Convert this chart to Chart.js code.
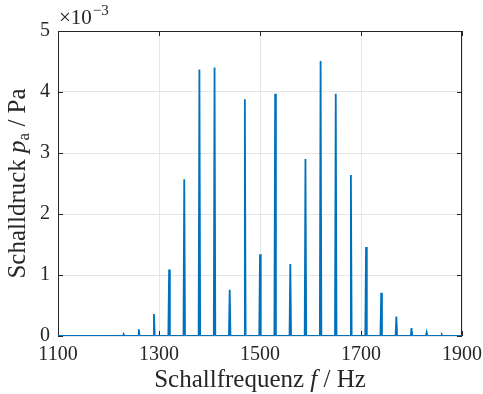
<!DOCTYPE html>
<html lang="de">
<head>
    <meta charset="UTF-8">
    <title>Schalldruckspektrum</title>
    <script src="https://cdn.jsdelivr.net/npm/chart.js"></script>
    <style>
        html, body { margin: 0; padding: 0; background: #ffffff; }
        #wrap { width: 483px; height: 394px; position: relative; }
    </style>
</head>
<body>
    <div id="wrap"><canvas id="spectrum"></canvas></div>

    <script>
        // Peaks of the spectrum (Hz) and their amplitudes (x 10^-3 Pa)
        const peakFreqs   = [1200, 1230, 1260, 1290, 1320, 1350, 1380, 1410, 1440, 1470, 1500, 1530, 1560,
                             1590, 1620, 1650, 1680, 1710, 1740, 1770, 1800, 1830, 1860];
        const peakHeights = [0.005, 0.03, 0.11, 0.36, 1.09, 2.57, 4.37, 4.40, 0.76, 3.88, 1.34, 3.97, 1.18,
                             2.90, 4.51, 3.97, 2.64, 1.46, 0.71, 0.32, 0.13, 0.06, 0.02];
        const peakHalfWidth = 1.5; // Hz
        const freqRange = [1100, 1900];
        const xTicks = [1100, 1300, 1500, 1700, 1900];
        const yTicks = [0, 1, 2, 3, 4, 5];

        // build the line: flat zero baseline with a narrow spike at each peak
        const points = [{ x: freqRange[0], y: 0 }];
        peakFreqs.forEach((f, i) => {
            points.push({ x: f - peakHalfWidth, y: 0 });
            points.push({ x: f, y: peakHeights[i] * 1e-3 });
            points.push({ x: f + peakHalfWidth, y: 0 });
        });
        points.push({ x: freqRange[1], y: 0 });

        const serif = "'Liberation Serif', 'DejaVu Serif', serif";
        const ink = '#262626';

        // box, inward ticks, axis titles and exponent, MATLAB style
        const matlabAxes = {
            id: 'matlabAxes',
            beforeDatasetsDraw(chart) {
                const { ctx, chartArea: a, scales: { x, y } } = chart;
                ctx.save();
                ctx.strokeStyle = ink;
                ctx.lineWidth = 1;
                ctx.strokeRect(a.left + 0.5, a.top + 0.5, a.right - a.left - 1, a.bottom - a.top - 1);
                const t = 5;
                ctx.beginPath();
                xTicks.forEach(v => {
                    const px = Math.round(x.getPixelForValue(v)) + 0.5;
                    ctx.moveTo(px, a.bottom); ctx.lineTo(px, a.bottom - t);
                    ctx.moveTo(px, a.top); ctx.lineTo(px, a.top + t);
                });
                yTicks.forEach(v => {
                    const py = Math.round(y.getPixelForValue(v * 1e-3)) + 0.5;
                    ctx.moveTo(a.left, py); ctx.lineTo(a.left + t, py);
                    ctx.moveTo(a.right, py); ctx.lineTo(a.right - t, py);
                });
                ctx.stroke();
                ctx.restore();
            },
            afterDraw(chart) {
                const { ctx, chartArea: a } = chart;
                ctx.save();
                ctx.fillStyle = ink;
                ctx.textBaseline = 'alphabetic';

                // draws a list of [text, font, dy] pieces, centred on cx
                function drawPieces(pieces, cx, baseY) {
                    let w = 0;
                    pieces.forEach(p => { ctx.font = p[1]; w += ctx.measureText(p[0]).width; });
                    let px = cx - w / 2;
                    pieces.forEach(p => {
                        ctx.font = p[1];
                        ctx.fillText(p[0], px, baseY + (p[2] || 0));
                        px += ctx.measureText(p[0]).width;
                    });
                }

                const rm = '25px ' + serif, it = 'italic 25px ' + serif, sub = '17px ' + serif;
                drawPieces([['Schallfrequenz ', rm], ['f', it], [' / Hz', rm]], (a.left + a.right) / 2, 387);

                ctx.save();
                ctx.translate(25, (a.top + a.bottom) / 2);
                ctx.rotate(-Math.PI / 2);
                drawPieces([['Schalldruck ', rm], ['p', it], ['a', sub, 4], [' / Pa', rm]], 0, 0);
                ctx.restore();

                // exponent label
                ctx.font = '21px ' + serif;
                ctx.fillText('\u00d710', 59, 24);
                const w10 = ctx.measureText('\u00d710').width;
                ctx.font = '15px ' + serif;
                ctx.fillText('\u22123', 59 + w10 + 1, 15);
                ctx.restore();
            }
        };

        new Chart(document.getElementById('spectrum'), {
            type: 'line',
            data: {
                datasets: [{
                    data: points,
                    borderColor: '#0072BD',
                    borderWidth: 1.8,
                    pointRadius: 0,
                    tension: 0,
                    fill: false
                }]
            },
            options: {
                responsive: true,
                maintainAspectRatio: false,
                animation: false,
                events: [],
                layout: { padding: { left: 0, top: 31, right: 21, bottom: 0 } },
                plugins: { legend: { display: false }, tooltip: { enabled: false } },
                scales: {
                    x: {
                        type: 'linear',
                        min: freqRange[0],
                        max: freqRange[1],
                        afterBuildTicks: s => { s.ticks = xTicks.map(v => ({ value: v })); },
                        afterFit: s => { s.height = 58; s.paddingLeft = 0; s.paddingRight = 0; },
                        grid: { color: '#e6e6e6', lineWidth: 1, drawTicks: false },
                        border: { display: false },
                        ticks: {
                            padding: 7,
                            maxRotation: 0,
                            color: ink,
                            font: { family: serif, size: 20 },
                            callback: v => String(v)
                        }
                    },
                    y: {
                        min: 0,
                        max: 0.005,
                        afterBuildTicks: s => { s.ticks = yTicks.map(v => ({ value: v * 1e-3 })); },
                        afterFit: s => { s.width = 58; s.paddingTop = 0; s.paddingBottom = 0; },
                        grid: { color: '#e6e6e6', lineWidth: 1, drawTicks: false },
                        border: { display: false },
                        ticks: {
                            padding: 8,
                            color: ink,
                            font: { family: serif, size: 20 },
                            callback: v => String(Math.round(v * 1000))
                        }
                    }
                }
            },
            plugins: [matlabAxes]
        });
    </script>
</body>
</html>
